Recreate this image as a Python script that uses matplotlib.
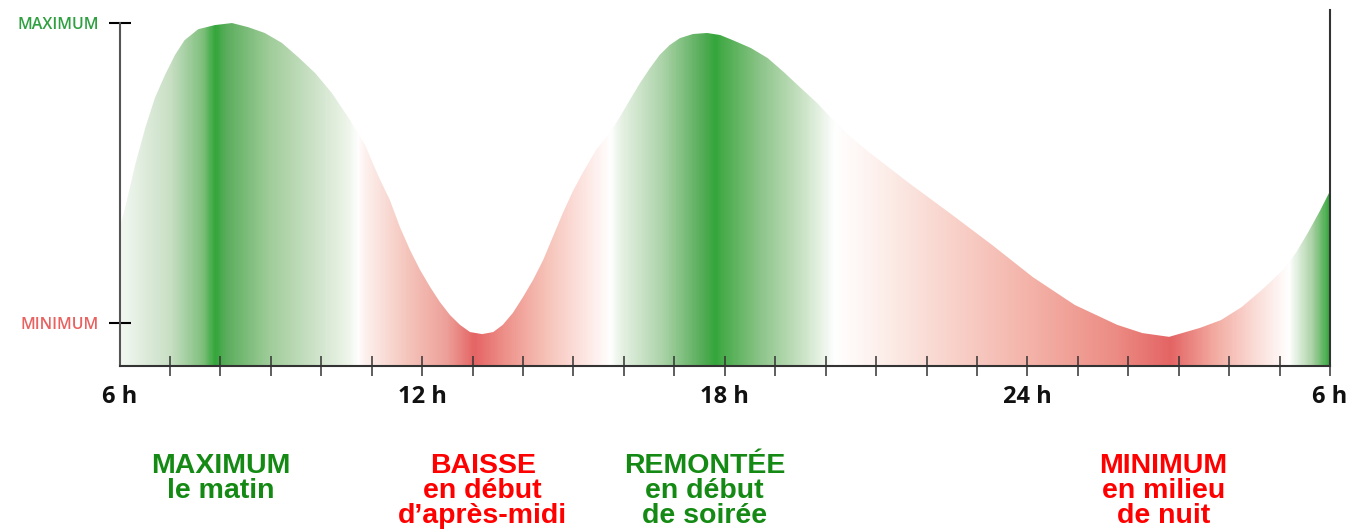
import numpy as np
import matplotlib.pyplot as plt
from matplotlib.colors import LinearSegmentedColormap

# curve (hour of day, relative level: 100 = maximum)
hours = [6.0, 6.11, 6.31, 6.51, 6.70, 6.90, 7.10, 7.29, 7.56, 7.89, 8.23,
         8.55, 8.88, 9.22, 9.54, 9.88, 10.21, 10.53, 10.87, 11.07, 11.16,
         11.36, 11.56, 11.76, 11.96, 12.16, 12.35, 12.55, 12.75, 12.95, 13.19,
         13.41, 13.60, 13.80, 14.00, 14.20, 14.40, 14.59, 14.79, 14.99, 15.19,
         15.45, 15.72, 15.92, 16.12, 16.32, 16.52, 16.71, 16.91, 17.11, 17.37,
         17.65, 17.91, 18.16, 18.52, 18.85, 19.17, 19.49, 19.83, 20.15, 20.48,
         20.82, 21.63, 22.46, 23.30, 24.11, 24.94, 25.78, 26.28, 26.81, 27.42,
         27.84, 28.25, 28.65, 29.07, 29.32, 29.56, 29.81, 30.0]
level = [40, 46.0, 58.6, 69.4, 78.1, 84.8, 90.7, 95.0, 98.2, 99.4, 100,
         98.8, 97.1, 94.2, 90.1, 85.4, 79.6, 72.6, 64.4, 57.5, 54.5,
         48.4, 40.5, 33.8, 28.0, 23.0, 18.7, 14.9, 12.0, 9.9, 9.3,
         9.9, 12.0, 15.5, 20.1, 25.1, 30.9, 37.6, 44.6, 51.0, 56.5,
         63.0, 68.0, 72.6, 77.6, 82.5, 86.9, 90.7, 93.6, 95.6, 96.8,
         97.1, 96.5, 95.0, 92.7, 89.8, 85.7, 81.3, 76.7, 71.7, 67.0,
         62.8, 53.6, 44.6, 35.3, 25.9, 17.8, 12.0, 9.6, 8.5, 11.1,
         13.4, 17.2, 22.2, 28.0, 32.9, 38.8, 45.5, 51]

x_ticks = [6, 12, 18, 24, 30]
x_labels = ["6 h", "12 h", "18 h", "24 h", "6 h"]
y_ticks = [12.5, 100]
y_labels = ["MINIMUM", "MAXIMUM"]

notes = ["MAXIMUM\nle matin", "BAISSE\nen début\nd’après-midi",
         "REMONTÉE\nen début\nde soirée", "MINIMUM\nen milieu\nde nuit"]
note_hours = [8.0, 13.2, 17.6, 26.7]

# horizontal colour gradient of the filled area
GREEN = "#33a63a"
RED = "#e46464"
grad_pos = [6.0, 6.98, 7.62, 7.87, 8.08, 8.94, 9.73, 10.51, 10.71, 10.83,
            11.68, 12.47, 13.02, 13.64, 14.44, 15.21, 15.72, 15.92, 16.78,
            17.57, 17.81, 17.91, 18.69, 19.47, 20.18, 21.04, 22.6, 24.17,
            25.74, 26.84, 27.70, 28.48, 29.19, 29.66, 30.0]
grad_col = ["#f3f8f2", "#c8dfc4", "#80c07e", GREEN, "#5aad5c", "#9fcc99",
            "#c7dfc2", "#eef5ea", "#ffffff", "#fdf2ef", "#f5c5bc", "#eda099",
            RED, "#ee928b", "#f6c2b8", "#fde6e2", "#ffffff", "#e8f2e6",
            "#a9d2a6", "#52ab55", GREEN, "#44aa47", "#8cc489", "#c5e0c0",
            "#ffffff", "#fdf0ec", "#f8d0c8", "#f3b0a6", "#ec8c84", RED,
            "#f2aaa0", "#fadad4", "#ffffff", "#a9d1a4", GREEN]

W, H = 1353, 531
fig = plt.figure(figsize=(W / 100, H / 100), dpi=100)
ax = fig.add_axes([119.5 / W, 165 / H, (1330 - 119.5) / W, 356 / H])
ytop = 103.8
ax.set_xlim(6, 30)
ax.set_ylim(0, ytop)

stops = [((p - 6) / 24, c) for p, c in zip(grad_pos, grad_col)]
cmap = LinearSegmentedColormap.from_list("day", stops, N=1024)
grad = np.linspace(0, 1, 1200).reshape(1, -1)
im = ax.imshow(grad, extent=[6, 30, 0, ytop], aspect="auto", cmap=cmap,
               interpolation="bilinear", zorder=1)
poly = ax.fill_between(hours, 0, level, facecolor="none", edgecolor="none")
im.set_clip_path(poly.get_paths()[0], transform=ax.transData)

# spines
ax.spines["top"].set_visible(False)
ax.spines["left"].set_bounds(0, 100)
ax.spines["left"].set_color("#555555")
ax.spines["bottom"].set_color("#333333")
ax.spines["right"].set_color("#333333")
for s in ["left", "bottom", "right"]:
    ax.spines[s].set_linewidth(1.5)
    ax.spines[s].set_zorder(3)

# x axis ticks
ax.set_xticks(x_ticks)
ax.set_xticklabels(x_labels, fontfamily="Open Sans", fontweight="bold",
                   fontsize=17, color="#111111")
ax.set_xticks(np.arange(7, 31), minor=True)
ax.xaxis.remove_overlapping_locs = False
ax.tick_params(axis="x", which="major", length=0, pad=14)
ax.tick_params(axis="x", which="minor", direction="inout", length=15,
               width=1.1, color="#333333")

# y axis ticks
ax.set_yticks(y_ticks)
ax.set_yticklabels(y_labels, fontfamily="Open Sans", fontweight="semibold",
                   fontsize=11.5)
ax.tick_params(axis="y", direction="inout", length=16, width=1.5, pad=7)
for tick, lab, c in zip(ax.yaxis.get_major_ticks(), ax.get_yticklabels(),
                        ["#e8625f", "#2fa040"]):
    tick.tick1line.set_color(c)
    lab.set_color(c)

# explanatory notes below the chart
for txt, h in zip(notes, note_hours):
    xf = (119.5 + (h - 6) * (1330 - 119.5) / 24) / W
    col = "#148a14" if txt.startswith(("MAX", "REM")) else "#ff0000"
    fig.text(xf, 1 - 453 / H, txt, ha="center", va="top",
             multialignment="center", fontfamily="Liberation Sans",
             fontweight="bold", fontsize=20.5, color=col, linespacing=0.95)

fig.savefig("out.png", dpi=100)
